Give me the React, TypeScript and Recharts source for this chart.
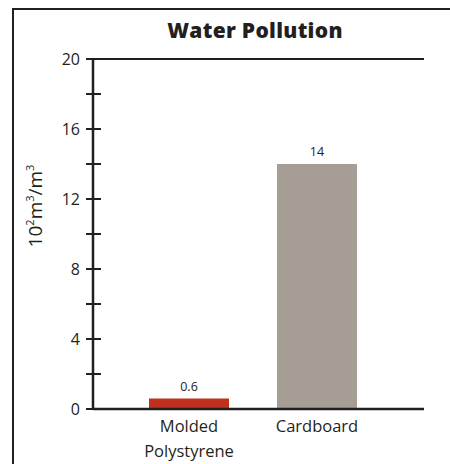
import { BarChart, Bar, XAxis, YAxis, ReferenceLine, LabelList, Cell } from 'recharts'

const categories = ['Molded\nPolystyrene', 'Cardboard']
const values = [0.6, 14]
const barColors = ['#c0301c', '#a69e94']
const yTicks = [0, 2, 4, 6, 8, 10, 12, 14, 16, 18, 20]

const data = categories.map((name, i) => ({ name, value: values[i] }))

const INK = '#231f20'
const FONT = '"Open Sans", "Noto Sans", sans-serif'

function YTick({ x, y, payload }: any) {
  const v = payload.value
  return (
    <g>
      <line x1={x - 7} x2={x + 8} y1={y} y2={y} stroke={INK} strokeWidth={2} />
      {v % 4 === 0 && (
        <text x={x - 13} y={y} dy={6} textAnchor="end" fontSize={16} fill={INK} fontFamily={FONT}>
          {v}
        </text>
      )}
    </g>
  )
}

function XTick({ x, y, payload }: any) {
  const lines = String(payload.value).split('\n')
  return (
    <text x={x} y={y} textAnchor="middle" fontSize={16.5} fill={INK} fontFamily={FONT}>
      {lines.map((l, i) => (
        <tspan key={i} x={x} dy={i === 0 ? 15 : 25}>
          {l}
        </tspan>
      ))}
    </text>
  )
}

function YLabel({ viewBox }: any) {
  const cx = 35
  const cy = viewBox.y + viewBox.height / 2 - 28
  return (
    <text x={cx} y={cy} transform={`rotate(-90 ${cx} ${cy})`} textAnchor="middle" fontSize={19} fill={INK} fontFamily={FONT} dy={7}>
      10<tspan fontSize={11} dy={-8}>2</tspan>
      <tspan dy={8}>m</tspan>
      <tspan fontSize={11} dy={-8}>3</tspan>
      <tspan dy={8}>/m</tspan>
      <tspan fontSize={11} dy={-8}>3</tspan>
    </text>
  )
}

export default function App() {
  return (
    <div style={{ position: 'absolute', left: 0, top: 0, width: 450, height: 464, overflow: 'hidden', background: '#fff' }}>
      <div style={{ position: 'absolute', left: 12, top: 8, width: 480, height: 480, border: `2px solid ${INK}`, boxSizing: 'border-box' }} />
      <div style={{ position: 'absolute', left: 0, top: 16, width: 450, textAlign: 'center', paddingLeft: 60, boxSizing: 'border-box', fontFamily: FONT, fontWeight: 800, fontSize: 21, color: INK, letterSpacing: 0.3 }}>
        Water Pollution
      </div>
      <div style={{ position: 'absolute', left: 0, top: 0 }}>
        <BarChart width={450} height={464} data={data} margin={{ top: 59, right: 26, bottom: 15, left: 33 }}>
          <XAxis
            dataKey="name"
            padding={{ left: 32, right: 43 }}
            axisLine={{ stroke: INK, strokeWidth: 2.5 }}
            tickLine={false}
            tick={<XTick />}
            height={40}
            interval={0}
          />
          <YAxis
            domain={[0, 20]}
            ticks={yTicks}
            interval={0}
            width={60}
            tickSize={0}
            tickMargin={0}
            tickLine={false}
            axisLine={{ stroke: INK, strokeWidth: 2.5 }}
            tick={<YTick />}
            label={<YLabel />}
          />
          <YAxis
            yAxisId="right"
            orientation="right"
            domain={[0, 20]}
            width={0}
            tick={false}
            tickLine={false}
            axisLine={{ stroke: INK, strokeWidth: 2 }}
          />
          <ReferenceLine y={20} stroke={INK} strokeWidth={2} />
          <Bar dataKey="value" barSize={80} isAnimationActive={false}>
            {data.map((d, i) => (
              <Cell key={d.name} fill={barColors[i]} />
            ))}
            <LabelList dataKey="value" position="top" offset={8} fontSize={12.5} fill={INK} fontFamily={FONT} />
          </Bar>
        </BarChart>
      </div>
    </div>
  )
}
